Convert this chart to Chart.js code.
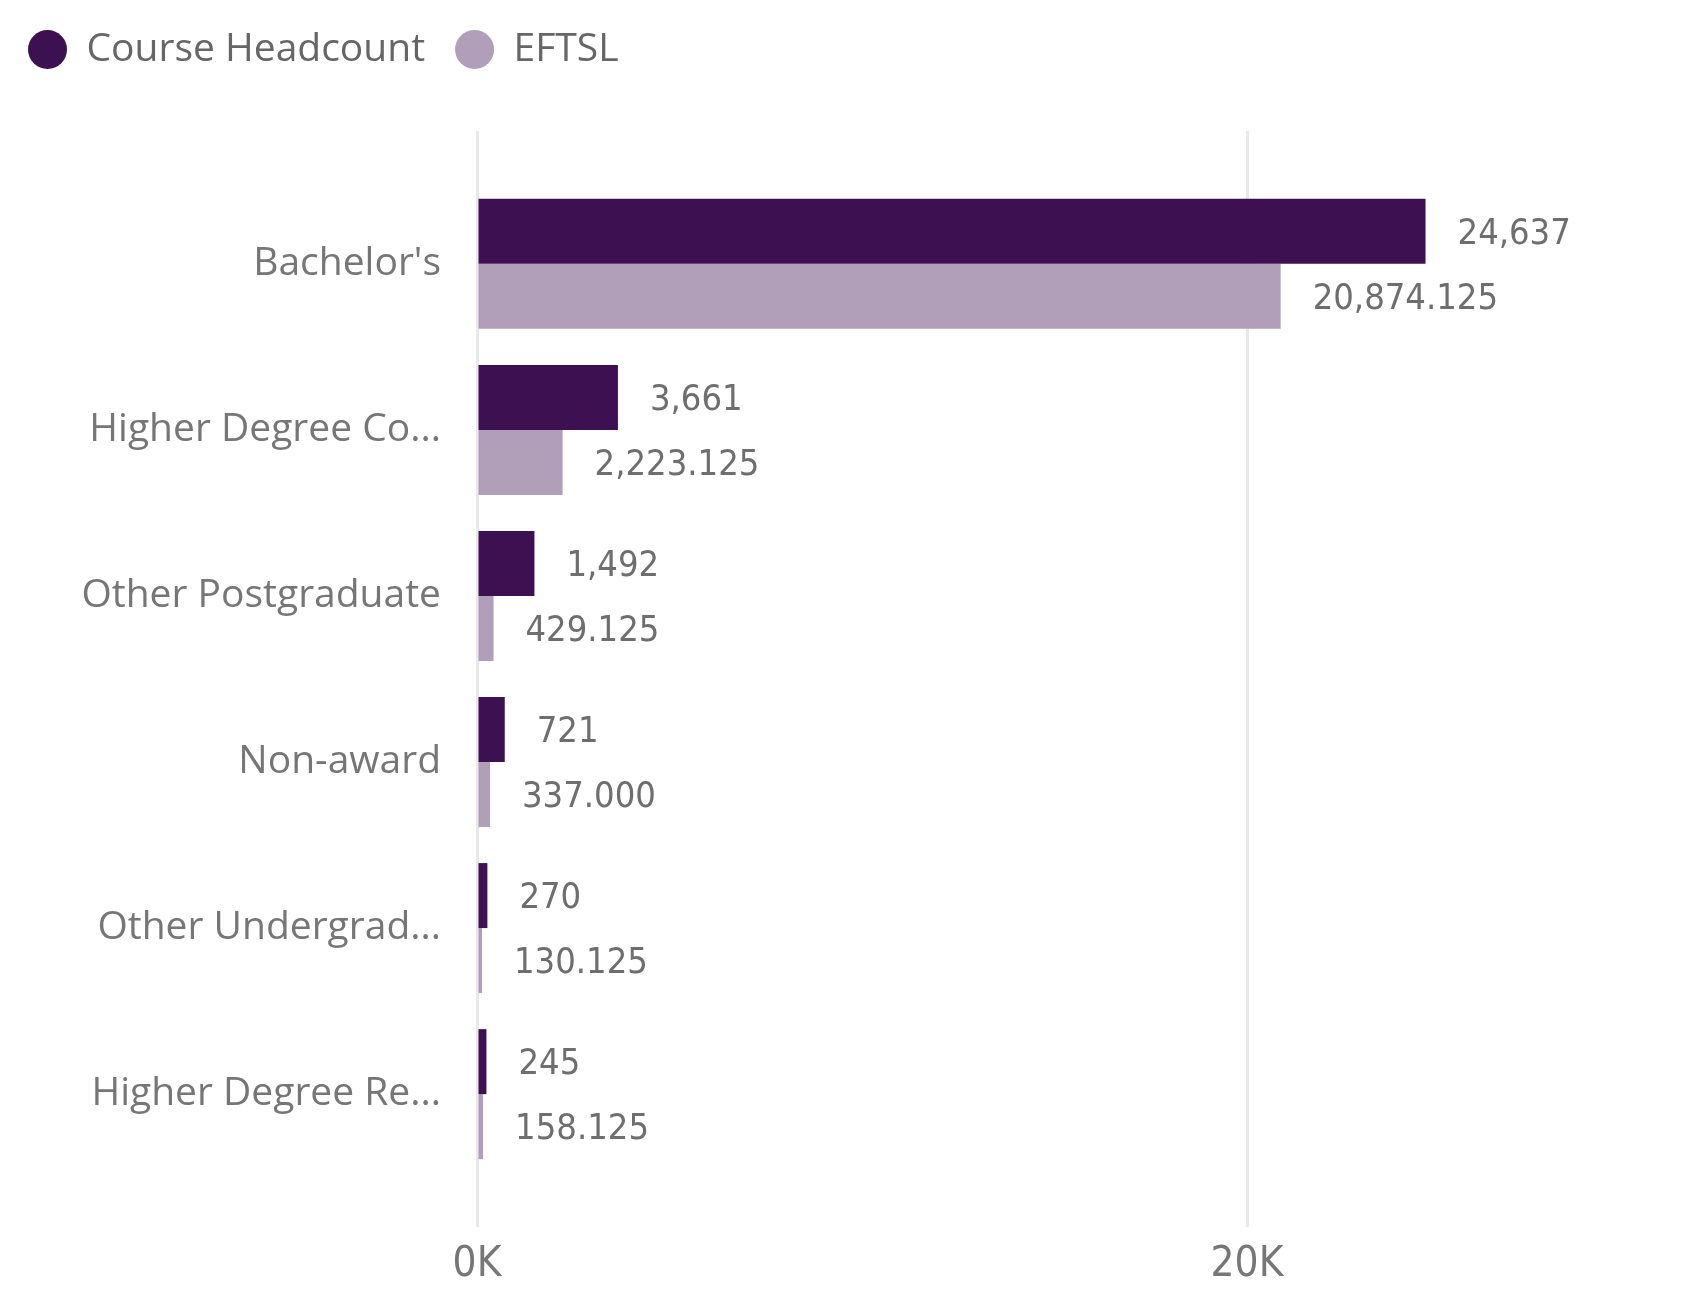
<!DOCTYPE html>
<html>
<head>
<meta charset="utf-8">
<script src="https://cdn.jsdelivr.net/npm/chart.js@4.4.0/dist/chart.umd.min.js"></script>
<style>
  body { margin: 0; background: #fff; }
  #wrap { width: 1690px; height: 1300px; }
</style>
</head>
<body>
<div id="wrap"><canvas id="chart" width="1690" height="1300"></canvas></div>
<script>
const categories = ["Bachelor's", 'Higher Degree Coursework', 'Other Postgraduate', 'Non-award', 'Other Undergraduate', 'Higher Degree Research'];
const tickLabels = ["Bachelor's", 'Higher Degree Co...', 'Other Postgraduate', 'Non-award', 'Other Undergrad...', 'Higher Degree Re...'];
const headcount = [24637, 3661, 1492, 721, 270, 245];
const eftsl = [20874.125, 2223.125, 429.125, 337.000, 130.125, 158.125];
const xTicks = [0, 20000];

const labelFont = '"Segoe UI", "Open Sans", sans-serif';
const numFont = '"Liberation Sans Narrow", "DejaVu Sans Condensed", sans-serif';

const fmt = [
    v => v.toLocaleString('en-US'),
    v => v.toLocaleString('en-US', { minimumFractionDigits: 3, maximumFractionDigits: 3 })
];

// value labels to the right of each bar
const barLabels = {
    id: 'barLabels',
    afterDatasetsDraw(chart) {
        const ctx = chart.ctx;
        ctx.save();
        ctx.font = '36px ' + numFont;
        ctx.fillStyle = '#6e6e6e';
        ctx.textAlign = 'left';
        ctx.textBaseline = 'middle';
        chart.data.datasets.forEach((ds, di) => {
            chart.getDatasetMeta(di).data.forEach((bar, i) => {
                ctx.fillText(fmt[di](ds.data[i].x), bar.x + 32, bar.y + 3);
            });
        });
        ctx.restore();
    }
};

new Chart(document.getElementById('chart').getContext('2d'), {
    type: 'bar',
    data: {
        datasets: [
            {
                label: 'Course Headcount',
                backgroundColor: '#3d1151',
                data: categories.map((c, i) => ({ x: headcount[i], y: i }))
            },
            {
                label: 'EFTSL',
                backgroundColor: '#b19fba',
                data: categories.map((c, i) => ({ x: eftsl[i], y: i }))
            }
        ]
    },
    options: {
        indexAxis: 'y',
        responsive: false,
        animation: false,
        categoryPercentage: 0.783,
        barPercentage: 1,
        borderWidth: 0,
        layout: { padding: { top: 0, right: 58, bottom: 0, left: -2 } },
        scales: {
            x: {
                type: 'linear',
                min: 0,
                max: 30000,
                afterBuildTicks: axis => { axis.ticks = xTicks.map(v => ({ value: v })); },
                afterFit: axis => { axis.height = 73; },
                grid: { color: '#e9e9e9', lineWidth: 3, drawTicks: false },
                border: { display: false },
                ticks: {
                    padding: 13,
                    color: '#777',
                    font: { family: numFont, size: 42 },
                    callback: v => (v / 1000) + 'K'
                }
            },
            y: {
                type: 'linear',
                reverse: true,
                offset: false,
                bounds: 'data',
                min: -0.8,
                max: 5.8,
                afterBuildTicks: axis => { axis.ticks = categories.map((c, i) => ({ value: i })); },
                afterFit: axis => { axis.width = 479; },
                grid: { display: false, drawTicks: false, offset: false },
                border: { display: false },
                ticks: {
                    autoSkip: false,
                    padding: 36,
                    color: '#767676',
                    font: { family: labelFont, size: 39 },
                    callback: v => tickLabels[v]
                }
            }
        },
        plugins: {
            legend: {
                position: 'top',
                align: 'start',
                labels: {
                    usePointStyle: true,
                    pointStyle: 'circle',
                    boxHeight: 27.6,
                    pointStyleWidth: 39,
                    padding: 30,
                    color: '#666',
                    font: { family: labelFont, size: 39 }
                }
            },
            // empty spacer between legend and plot
            title: {
                display: true,
                text: '',
                weight: 500,
                font: { size: 1, lineHeight: 1 },
                padding: { top: 51, bottom: 0 }
            },
            tooltip: { enabled: false }
        }
    },
    plugins: [barLabels]
});
</script>
</body>
</html>
